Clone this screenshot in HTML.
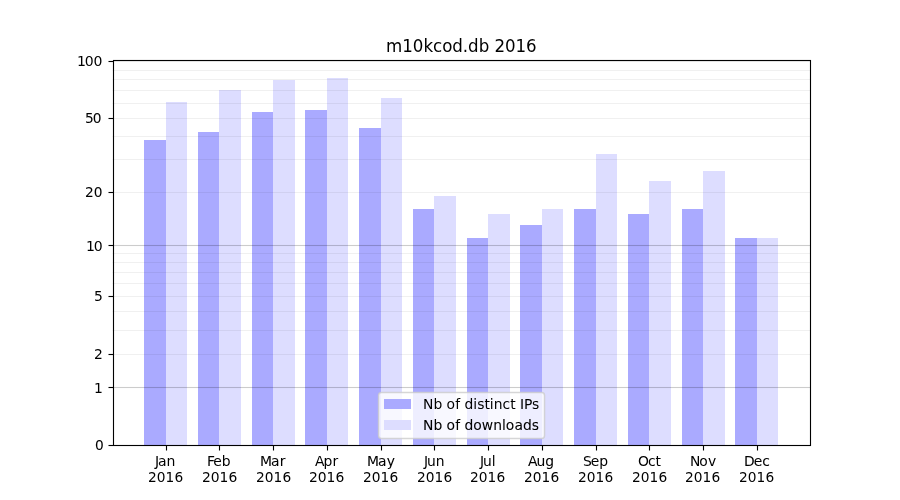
<!DOCTYPE html>
<html lang="en"><head><meta charset="utf-8"><title>m10kcod.db 2016</title>
<style>html,body{margin:0;padding:0;background:#fff;}body{width:900px;height:500px;overflow:hidden;}svg{display:block;}text{font-family:"DejaVu Sans","Liberation Sans",sans-serif;fill:#000;}</style></head><body>
<svg width="900" height="500" viewBox="0 0 900 500">
<rect x="0" y="0" width="900" height="500" fill="#fff"/>
<g shape-rendering="crispEdges">
<rect x="144" y="140" width="22" height="305" fill="#aaaaff"/>
<rect x="166" y="102" width="21" height="343" fill="#ddddff"/>
<rect x="198" y="132" width="21" height="313" fill="#aaaaff"/>
<rect x="219" y="90" width="22" height="355" fill="#ddddff"/>
<rect x="252" y="112" width="21" height="333" fill="#aaaaff"/>
<rect x="273" y="80" width="22" height="365" fill="#ddddff"/>
<rect x="305" y="110" width="22" height="335" fill="#aaaaff"/>
<rect x="327" y="78" width="21" height="367" fill="#ddddff"/>
<rect x="359" y="128" width="22" height="317" fill="#aaaaff"/>
<rect x="381" y="98" width="21" height="347" fill="#ddddff"/>
<rect x="413" y="209" width="21" height="236" fill="#aaaaff"/>
<rect x="434" y="196" width="22" height="249" fill="#ddddff"/>
<rect x="467" y="238" width="21" height="207" fill="#aaaaff"/>
<rect x="488" y="214" width="22" height="231" fill="#ddddff"/>
<rect x="520" y="225" width="22" height="220" fill="#aaaaff"/>
<rect x="542" y="209" width="21" height="236" fill="#ddddff"/>
<rect x="574" y="209" width="22" height="236" fill="#aaaaff"/>
<rect x="596" y="154" width="21" height="291" fill="#ddddff"/>
<rect x="628" y="214" width="21" height="231" fill="#aaaaff"/>
<rect x="649" y="181" width="22" height="264" fill="#ddddff"/>
<rect x="682" y="209" width="21" height="236" fill="#aaaaff"/>
<rect x="703" y="171" width="22" height="274" fill="#ddddff"/>
<rect x="735" y="238" width="22" height="207" fill="#aaaaff"/>
<rect x="757" y="238" width="21" height="207" fill="#ddddff"/>
</g>
<g>
<rect x="112.5" y="353.945" width="697.5" height="1.11" fill="rgba(0,0,0,0.06)"/>
<rect x="112.5" y="329.945" width="697.5" height="1.11" fill="rgba(0,0,0,0.06)"/>
<rect x="112.5" y="310.945" width="697.5" height="1.11" fill="rgba(0,0,0,0.06)"/>
<rect x="112.5" y="295.945" width="697.5" height="1.11" fill="rgba(0,0,0,0.06)"/>
<rect x="112.5" y="282.945" width="697.5" height="1.11" fill="rgba(0,0,0,0.06)"/>
<rect x="112.5" y="271.945" width="697.5" height="1.11" fill="rgba(0,0,0,0.06)"/>
<rect x="112.5" y="261.945" width="697.5" height="1.11" fill="rgba(0,0,0,0.06)"/>
<rect x="112.5" y="252.945" width="697.5" height="1.11" fill="rgba(0,0,0,0.06)"/>
<rect x="112.5" y="191.945" width="697.5" height="1.11" fill="rgba(0,0,0,0.06)"/>
<rect x="112.5" y="158.945" width="697.5" height="1.11" fill="rgba(0,0,0,0.06)"/>
<rect x="112.5" y="135.945" width="697.5" height="1.11" fill="rgba(0,0,0,0.06)"/>
<rect x="112.5" y="117.945" width="697.5" height="1.11" fill="rgba(0,0,0,0.06)"/>
<rect x="112.5" y="102.945" width="697.5" height="1.11" fill="rgba(0,0,0,0.06)"/>
<rect x="112.5" y="89.945" width="697.5" height="1.11" fill="rgba(0,0,0,0.06)"/>
<rect x="112.5" y="78.945" width="697.5" height="1.11" fill="rgba(0,0,0,0.06)"/>
<rect x="112.5" y="69.945" width="697.5" height="1.11" fill="rgba(0,0,0,0.06)"/>
<rect x="112.5" y="60.945" width="697.5" height="1.11" fill="rgba(0,0,0,0.06)"/>
<rect x="112.5" y="386.945" width="697.5" height="1.11" fill="rgba(0,0,0,0.2)"/>
<rect x="112.5" y="244.945" width="697.5" height="1.11" fill="rgba(0,0,0,0.2)"/>
</g>
<g fill="#000">
<rect x="108.5" y="444.945" width="4.6" height="1.11"/>
<rect x="108.5" y="386.945" width="4.6" height="1.11"/>
<rect x="108.5" y="353.945" width="4.6" height="1.11"/>
<rect x="108.5" y="295.945" width="4.6" height="1.11"/>
<rect x="108.5" y="244.945" width="4.6" height="1.11"/>
<rect x="108.5" y="191.945" width="4.6" height="1.11"/>
<rect x="108.5" y="117.945" width="4.6" height="1.11"/>
<rect x="108.5" y="60.945" width="4.6" height="1.11"/>
<rect x="165.945" y="445" width="1.11" height="5.5"/>
<rect x="218.945" y="445" width="1.11" height="5.5"/>
<rect x="272.945" y="445" width="1.11" height="5.5"/>
<rect x="326.945" y="445" width="1.11" height="5.5"/>
<rect x="380.945" y="445" width="1.11" height="5.5"/>
<rect x="433.945" y="445" width="1.11" height="5.5"/>
<rect x="487.945" y="445" width="1.11" height="5.5"/>
<rect x="541.945" y="445" width="1.11" height="5.5"/>
<rect x="595.945" y="445" width="1.11" height="5.5"/>
<rect x="648.945" y="445" width="1.11" height="5.5"/>
<rect x="702.945" y="445" width="1.11" height="5.5"/>
<rect x="756.945" y="445" width="1.11" height="5.5"/>
</g>
<g fill="none" stroke="#000" stroke-width="1.11"><rect x="113.5" y="60.5" width="697" height="385"/></g>
<text x="95.93" y="0" font-size="13.89" stroke="#000" stroke-width="0.05" transform="translate(0 450.00) scale(0.990 1.040)">0</text>
<text x="93.96" y="0" font-size="13.89" transform="translate(0 393.00) scale(1.000 0.990)">1</text>
<text x="93.96" y="0" font-size="13.89" transform="translate(0 359.00) scale(1.000 0.960)">2</text>
<text x="93.96" y="0" font-size="13.89" transform="translate(0 301.00) scale(1.000 0.980)">5</text>
<text x="85.10 92.92" y="0" font-size="13.89" transform="translate(0 251.00) scale(1.010 1.050)">10</text>
<text x="85.85 94.78" y="0" font-size="13.89" stroke="#000" stroke-width="0.05" transform="translate(0 197.00) scale(0.990 0.950)">20</text>
<text x="85.83 93.79" y="0" font-size="13.89" stroke="#000" stroke-width="0.05" transform="translate(0 123.00) scale(0.990 1.020)">50</text>
<text x="76.21 83.89 92.55" y="0" font-size="13.89" transform="translate(0 66.00) scale(1.010 1.050)">100</text>
<text x="153.47 156.52 164.83" y="0" font-size="13.89" transform="translate(0 466.00) scale(1.010 1.030)">Jan</text>
<text x="149.54 158.31 167.23 176.15" y="0" font-size="13.89" transform="translate(0 481.50) scale(0.990 0.950)">2016</text>
<text x="206.90 213.24 221.65" y="0" font-size="13.89" transform="translate(0 466.00) scale(1.000 1.020)">Feb</text>
<text x="201.91 210.72 219.55 228.38" y="0" font-size="13.89" transform="translate(0 481.50) scale(1.000 1.030)">2016</text>
<text x="260.08 271.05 279.67" y="0" font-size="13.89" stroke="#000" stroke-width="0.05" transform="translate(0 466.00) scale(1.000 0.960)">Mar</text>
<text x="258.47 267.38 276.29 285.34" y="0" font-size="13.89" transform="translate(0 481.50) scale(0.990 0.970)">2016</text>
<text x="314.90 323.51 332.45" y="0" font-size="13.89" transform="translate(0 466.00) scale(1.000 1.060)">Apr</text>
<text x="309.13 317.69 326.52 335.47" y="0" font-size="13.89" transform="translate(0 481.50) scale(1.000 1.070)">2016</text>
<text x="366.93 378.02 386.65" y="0" font-size="13.89" stroke="#000" stroke-width="0.05" transform="translate(0 466.00) scale(1.000 1.020)">May</text>
<text x="366.66 375.48 384.31 393.40" y="0" font-size="13.89" transform="translate(0 481.50) scale(0.990 0.970)">2016</text>
<text x="423.91 426.99 435.66" y="0" font-size="13.89" transform="translate(0 466.00) scale(1.000 0.970)">Jun</text>
<text x="421.31 430.13 438.96 447.92" y="0" font-size="13.89" transform="translate(0 481.50) scale(0.990 0.970)">2016</text>
<text x="479.99 483.07 491.87" y="0" font-size="13.89" transform="translate(0 466.00) scale(1.000 0.970)">Jul</text>
<text x="474.71 483.61 492.53 501.45" y="0" font-size="13.89" transform="translate(0 481.50) scale(0.990 0.950)">2016</text>
<text x="527.93 536.54 545.21" y="0" font-size="13.89" stroke="#000" stroke-width="0.05" transform="translate(0 466.00) scale(1.000 1.010)">Aug</text>
<text x="529.24 538.05 546.89 555.97" y="0" font-size="13.89" transform="translate(0 481.50) scale(0.990 0.970)">2016</text>
<text x="583.01 590.81 599.36" y="0" font-size="13.89" transform="translate(0 466.00) scale(1.000 0.960)">Sep</text>
<text x="583.90 592.67 601.59 610.51" y="0" font-size="13.89" transform="translate(0 481.50) scale(0.990 0.950)">2016</text>
<text x="637.96 648.11 655.50" y="0" font-size="13.89" transform="translate(0 466.00) scale(1.000 1.010)">Oct</text>
<text x="638.31 647.21 656.13 665.04" y="0" font-size="13.89" transform="translate(0 481.50) scale(0.990 0.950)">2016</text>
<text x="689.89 699.26 708.00" y="0" font-size="13.89" transform="translate(0 466.00) scale(1.000 1.070)">Nov</text>
<text x="691.82 700.72 709.64 718.68" y="0" font-size="13.89" transform="translate(0 481.50) scale(0.990 0.950)">2016</text>
<text x="744.12 753.79 762.34" y="0" font-size="13.89" stroke="#000" stroke-width="0.05" transform="translate(0 466.00) scale(1.000 1.020)">Dec</text>
<text x="746.48 755.26 764.18 773.22" y="0" font-size="13.89" transform="translate(0 481.50) scale(0.990 0.950)">2016</text>
<text x="385.96 402.17 412.64 423.49 433.01 442.16 452.22 462.67 467.97 478.66 489.10 494.40 504.99 515.46 526.05" y="0" font-size="16.67" transform="translate(0 51.80) scale(1.000 1.070)">m10kcod.db 2016</text>
<rect x="378.536" y="392.600" width="166.002" height="45.800" rx="2.98" ry="2.98" fill="rgba(255,255,255,0.8)" stroke="rgba(204,204,204,0.8)" stroke-width="1.47"/>
<rect x="384" y="399" width="27" height="10" fill="#aaaaff" shape-rendering="crispEdges"/>
<rect x="384" y="420" width="27" height="10" fill="#ddddff" shape-rendering="crispEdges"/>
<text x="423.05 433.55 442.35 446.52 455.25 460.14 464.55 473.36 477.21 484.44 489.63 493.74 502.41 510.16 515.47 519.88 523.97 532.10" y="408.70" font-size="13.89" >Nb of distinct IPs</text>
<text x="422.92 433.55 442.35 446.52 455.25 460.14 464.55 473.24 481.72 493.32 502.11 505.72 514.46 522.96 531.77" y="0" font-size="13.89" stroke="#000" stroke-width="0.05" transform="translate(0 430.20) scale(1.000 1.040)">Nb of downloads</text>
</svg></body></html>
